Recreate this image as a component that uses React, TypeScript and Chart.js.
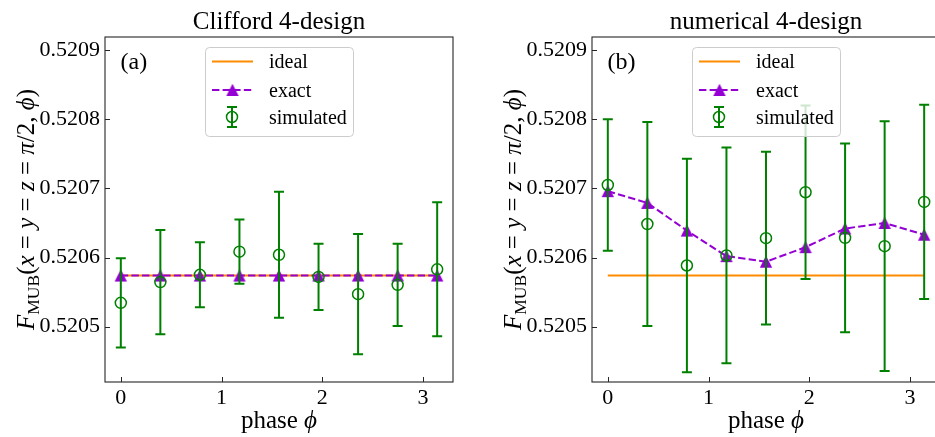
import React, { useEffect, useRef } from "react";
import { Chart, registerables } from "chart.js";

Chart.register(...registerables);

// ---------------- data ----------------
const PHASE = [0, 0.3927, 0.7854, 1.1781, 1.5708, 1.9635, 2.3562, 2.7489, 3.1416];

const IDEAL_A = [0.520574, 0.520574, 0.520574, 0.520574, 0.520574, 0.520574, 0.520574, 0.520574, 0.520574];
const EXACT_A = [0.520574, 0.520574, 0.520574, 0.520574, 0.520574, 0.520574, 0.520574, 0.520574, 0.520574];
const SIM_A = [0.5205345, 0.5205645, 0.520575, 0.5206085, 0.520604, 0.520572, 0.520547, 0.5205605, 0.520583];
const ERR_A = [0.0000645, 0.0000755, 0.000047, 0.0000465, 0.000091, 0.000048, 0.000087, 0.0000595, 0.000097];

const IDEAL_B = [0.520574, 0.520574, 0.520574, 0.520574, 0.520574, 0.520574, 0.520574, 0.520574, 0.520574];
const EXACT_B = [0.520696, 0.520679, 0.520639, 0.520602, 0.520594, 0.520615, 0.520642, 0.52065, 0.520633];
const SIM_B = [0.520705, 0.5206485, 0.5205885, 0.520603, 0.520628, 0.5206945, 0.5206285, 0.5206165, 0.5206805];
const ERR_B = [0.000095, 0.0001475, 0.0001545, 0.000156, 0.000125, 0.0001255, 0.0001365, 0.0001805, 0.0001405];

const Y_TICKS = [0.5205, 0.5206, 0.5207, 0.5208, 0.5209];
const X_TICKS = [0, 1, 2, 3];
const Y_MIN = 0.52042;
const Y_MAX = 0.520919;
const X_MIN = -0.157;
const X_MAX = 3.2987;

const LEGEND_LABELS = ["ideal", "exact", "simulated"];
const TITLES = ["Clifford 4-design", "numerical 4-design"];
const PANEL_TAGS = ["(a)", "(b)"];
const X_LABEL_TEXT = "phase ";
const X_LABEL_SYMBOL = "\u03D5";
// y label: F_MUB(x = y = z = π/2, ϕ)
const Y_LABEL_PARTS: { t: string; it?: boolean; sub?: boolean }[] = [
  { t: "F", it: true },
  { t: "MUB", sub: true },
  { t: "(" },
  { t: "x", it: true },
  { t: " = " },
  { t: "y", it: true },
  { t: " = " },
  { t: "z", it: true },
  { t: " = " },
  { t: "\u03C0", it: true },
  { t: "/2, " },
  { t: "\u03D5", it: true },
  { t: ")" },
];

// ---------------- styles ----------------
const FAMILY = '"Liberation Serif", "DejaVu Serif", "Times New Roman", serif';
const ORANGE = "#FF8C00";
const PURPLE = "#9400D3";
const GREEN = "#008000";
const DASH = [7.4, 3.2];

function font(size: number, italic = false) {
  return `${italic ? "italic " : ""}${size}px ${FAMILY}`;
}

function makeTriangle(): HTMLCanvasElement {
  const c = document.createElement("canvas");
  c.width = 14;
  c.height = 14;
  const g = c.getContext("2d")!;
  g.fillStyle = PURPLE;
  g.beginPath();
  g.moveTo(7, 0.8);
  g.lineTo(0.8, 13);
  g.lineTo(13.2, 13);
  g.closePath();
  g.fill();
  return c;
}

function drawErrorBar(ctx: CanvasRenderingContext2D, x: number, yTop: number, yBot: number, cap: number) {
  ctx.beginPath();
  ctx.moveTo(x, yTop);
  ctx.lineTo(x, yBot);
  ctx.moveTo(x - cap, yTop);
  ctx.lineTo(x + cap, yTop);
  ctx.moveTo(x - cap, yBot);
  ctx.lineTo(x + cap, yBot);
  ctx.stroke();
}

function makeDecor(panel: number, sim: number[], err: number[], tri: HTMLCanvasElement) {
  return {
    id: "decor" + panel,
    beforeDatasetDraw(chart: any, args: any) {
      if (args.index !== 0) return;
      const ctx: CanvasRenderingContext2D = chart.ctx;
      const xs = chart.scales.x;
      const ys = chart.scales.y;
      ctx.save();
      ctx.strokeStyle = GREEN;
      ctx.lineWidth = 2;
      for (let i = 0; i < PHASE.length; i++) {
        const x = xs.getPixelForValue(PHASE[i]);
        drawErrorBar(ctx, x, ys.getPixelForValue(sim[i] + err[i]), ys.getPixelForValue(sim[i] - err[i]), 5);
      }
      ctx.restore();
    },
    afterDraw(chart: any) {
      const ctx: CanvasRenderingContext2D = chart.ctx;
      const a = chart.chartArea;
      const xs = chart.scales.x;
      const ys = chart.scales.y;
      ctx.save();
      // frame
      ctx.strokeStyle = "#262626";
      ctx.lineWidth = 1.1;
      ctx.strokeRect(a.left, a.top, a.right - a.left, a.bottom - a.top);
      // inward ticks
      ctx.beginPath();
      for (const v of Y_TICKS) {
        const y = Math.round(ys.getPixelForValue(v)) + 0.5;
        ctx.moveTo(a.left, y);
        ctx.lineTo(a.left + 5, y);
      }
      for (const v of X_TICKS) {
        const x = Math.round(xs.getPixelForValue(v)) + 0.5;
        ctx.moveTo(x, a.bottom);
        ctx.lineTo(x, a.bottom - 5);
      }
      ctx.lineWidth = 1;
      ctx.stroke();

      ctx.fillStyle = "#000";
      // title
      const cx = (a.left + a.right) / 2;
      ctx.font = font(25);
      ctx.textAlign = "center";
      ctx.textBaseline = "alphabetic";
      ctx.fillText(TITLES[panel], cx, 28.5);
      // x label
      ctx.textAlign = "left";
      ctx.font = font(25);
      const w1 = ctx.measureText(X_LABEL_TEXT).width;
      ctx.font = font(25, true);
      const w2 = ctx.measureText(X_LABEL_SYMBOL).width;
      let sx = cx - (w1 + w2) / 2;
      ctx.font = font(25);
      ctx.fillText(X_LABEL_TEXT, sx, 428);
      ctx.font = font(25, true);
      ctx.fillText(X_LABEL_SYMBOL, sx + w1, 428);
      // panel tag
      ctx.font = font(24);
      ctx.fillText(PANEL_TAGS[panel], a.left + 15.5, 68.5);
      // y label (rotated)
      const S = 25;
      const parts = Y_LABEL_PARTS.map((p) => {
        const f = p.sub ? font(S * 0.7) : font(S, !!p.it);
        ctx.font = f;
        return { ...p, f, w: ctx.measureText(p.t).width };
      });
      const total = parts.reduce((s, p) => s + p.w, 0);
      ctx.translate(a.left - 71.5, (a.top + a.bottom) / 2);
      ctx.rotate(-Math.PI / 2);
      let px = -total / 2;
      for (const p of parts) {
        ctx.font = p.f;
        ctx.fillText(p.t, px, p.sub ? S * 0.2 : 0);
        px += p.w;
      }
      ctx.setTransform(1, 0, 0, 1, 0, 0);

      // legend
      const L = a.left + 100;
      const T = 47;
      ctx.beginPath();
      (ctx as any).roundRect(L + 0.5, T + 0.5, 148, 89, 4);
      ctx.fillStyle = "rgba(255,255,255,0.8)";
      ctx.fill();
      ctx.strokeStyle = "#cccccc";
      ctx.lineWidth = 1;
      ctx.stroke();
      const rows = [61.5, 90, 117];
      // ideal
      ctx.strokeStyle = ORANGE;
      ctx.lineWidth = 2;
      ctx.beginPath();
      ctx.moveTo(L + 7, rows[0]);
      ctx.lineTo(L + 48, rows[0]);
      ctx.stroke();
      // exact
      ctx.strokeStyle = PURPLE;
      ctx.setLineDash(DASH);
      ctx.beginPath();
      ctx.moveTo(L + 7, rows[1]);
      ctx.lineTo(L + 48, rows[1]);
      ctx.stroke();
      ctx.setLineDash([]);
      ctx.drawImage(tri, L + 27.5 - tri.width / 2, rows[1] - tri.height / 2);
      // simulated
      ctx.strokeStyle = GREEN;
      ctx.lineWidth = 2;
      drawErrorBar(ctx, L + 27, rows[2] - 10, rows[2] + 10, 5);
      ctx.lineWidth = 1.5;
      ctx.beginPath();
      ctx.arc(L + 27, rows[2], 5.5, 0, Math.PI * 2);
      ctx.stroke();
      // texts
      ctx.fillStyle = "#000";
      ctx.font = font(20);
      ctx.textAlign = "left";
      for (let i = 0; i < 3; i++) {
        ctx.fillText(LEGEND_LABELS[i], L + 64, rows[i] + 6.7);
      }
      ctx.restore();
    },
  };
}

type PanelProps = {
  panel: number;
  left: number;
  width: number;
  yAxisWidth: number;
  padRight: number;
  ideal: number[];
  exact: number[];
  sim: number[];
  err: number[];
};

function Panel(props: PanelProps) {
  const ref = useRef<HTMLCanvasElement>(null);
  useEffect(() => {
    const { panel, yAxisWidth, padRight, ideal, exact, sim, err } = props;
    const tri = makeTriangle();
    const pts = (arr: number[]) => PHASE.map((x, i) => ({ x, y: arr[i] }));
    const tickFont = { family: FAMILY, size: 22 };
    const chart = new Chart(ref.current!, {
      type: "line",
      data: {
        datasets: [
          {
            label: LEGEND_LABELS[2],
            data: pts(sim),
            showLine: false,
            pointStyle: "circle",
            pointRadius: 5.5,
            pointBorderWidth: 1.5,
            pointBorderColor: GREEN,
            pointBackgroundColor: "rgba(0,0,0,0)",
            borderColor: GREEN,
          },
          {
            label: LEGEND_LABELS[1],
            data: pts(exact),
            borderColor: PURPLE,
            borderWidth: 2,
            borderDash: DASH,
            pointStyle: tri as any,
            pointRadius: 7,
            tension: 0,
          },
          {
            label: LEGEND_LABELS[0],
            data: pts(ideal),
            borderColor: ORANGE,
            borderWidth: 2,
            pointRadius: 0,
            tension: 0,
          },
        ],
      },
      options: {
        responsive: false,
        maintainAspectRatio: false,
        animation: false,
        devicePixelRatio: 1,
        events: [],
        layout: { padding: { left: 0, top: 37, right: padRight, bottom: 0 } },
        plugins: {
          legend: { display: false },
          tooltip: { enabled: false },
          title: { display: false },
        },
        scales: {
          x: {
            type: "linear",
            min: X_MIN,
            max: X_MAX,
            afterBuildTicks: (s: any) => {
              s.ticks = X_TICKS.map((v) => ({ value: v }));
            },
            afterFit: (s: any) => {
              s.height = 55;
            },
            grid: { display: false, drawTicks: false },
            border: { display: false },
            ticks: {
              font: tickFont,
              color: "#000",
              padding: 3,
              maxRotation: 0,
              autoSkip: false,
              callback: (v: any) => String(v),
            },
          },
          y: {
            type: "linear",
            min: Y_MIN,
            max: Y_MAX,
            afterBuildTicks: (s: any) => {
              s.ticks = Y_TICKS.map((v) => ({ value: v }));
            },
            afterFit: (s: any) => {
              s.width = yAxisWidth;
            },
            grid: { display: false, drawTicks: false },
            border: { display: false },
            ticks: {
              font: tickFont,
              color: "#000",
              padding: 5,
              autoSkip: false,
              callback: (v: any) => Number(v).toFixed(4),
            },
          },
        },
      },
      plugins: [makeDecor(panel, sim, err, tri)],
    });
    return () => chart.destroy();
  }, []);
  return (
    <canvas
      ref={ref}
      width={props.width}
      height={437}
      style={{ position: "absolute", left: props.left, top: 0, width: props.width, height: 437 }}
    />
  );
}

export default function App() {
  return (
    <div
      style={{
        position: "fixed",
        left: 0,
        top: 0,
        width: 935,
        height: 437,
        overflow: "hidden",
        background: "#fff",
      }}
    >
      <Panel panel={0} left={0} width={470} yAxisWidth={105} padRight={17} ideal={IDEAL_A} exact={EXACT_A} sim={SIM_A} err={ERR_A} />
      <Panel panel={1} left={470} width={480} yAxisWidth={122} padRight={10} ideal={IDEAL_B} exact={EXACT_B} sim={SIM_B} err={ERR_B} />
    </div>
  );
}
